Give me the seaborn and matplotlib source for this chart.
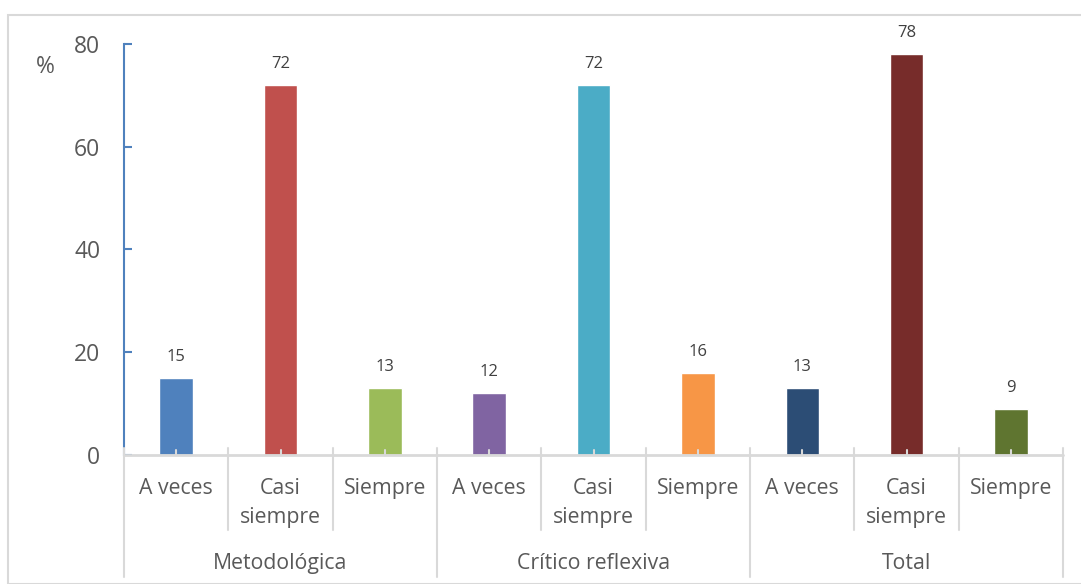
import matplotlib.pyplot as plt
import matplotlib.transforms as mtransforms
import seaborn as sns
import pandas as pd

# data
groups = ['Metodológica', 'Crítico reflexiva', 'Total']
levels = ['A veces', 'Casi\nsiempre', 'Siempre']
values = [15, 72, 13, 12, 72, 16, 13, 78, 9]
bar_colors = ['#4F81BD', '#C0504D', '#9BBB59',
              '#8064A2', '#4BACC6', '#F79646',
              '#2C4D75', '#772C2A', '#5F7530']
y_ticks = [0, 20, 40, 60, 80]

sns.set_style('white')
plt.rcParams['font.family'] = ['Open Sans', 'DejaVu Sans']

keys = [f'{g}|{l}' for g in groups for l in levels]
df = pd.DataFrame({'key': keys, 'value': values})

fig = plt.figure(figsize=(10.81, 5.84), dpi=100)
ax = fig.add_axes([0.1147, 0.2209, 0.9834 - 0.1147, 0.9247 - 0.2209])

sns.barplot(data=df, x='key', y='value', hue='key', palette=bar_colors,
            legend=False, width=0.32, ax=ax, saturation=1)

ax.set_xlim(-0.5, len(keys) - 0.5)
ax.set_ylim(0, 80)
ax.set_yticks(y_ticks)
ax.set_xlabel('')
ax.set_ylabel('')
ax.set_xticks([])

text_gray = '#595959'
line_gray = '#D9D9D9'

# y axis in blue, ticks pointing inward
for side in ['top', 'right', 'bottom']:
    ax.spines[side].set_visible(False)
ax.spines['left'].set_color('#4F81BD')
ax.spines['left'].set_linewidth(1.5)
ax.tick_params(axis='y', direction='in', length=6, width=1.5, color='#4F81BD',
               labelsize=16.5, labelcolor=text_gray, pad=17, left=True)

# value labels
for i, v in enumerate(values):
    ax.text(i, v + 4.1, str(v), ha='center', va='center', fontsize=12,
            color='#404040')

ax.text(-0.084, 0.944, '%', transform=ax.transAxes, fontsize=16.5,
        color=text_gray, ha='center', va='center')

# multi-level category axis
px = 1.0 / (584 * (0.9247 - 0.2209))  # one pixel in axes-fraction height
trans = mtransforms.blended_transform_factory(ax.transData, ax.transAxes)
ax.plot([-0.5, len(keys) - 0.5], [0, 0], transform=trans, color=line_gray,
        lw=2, clip_on=False, zorder=3)
for i in range(len(keys)):
    ax.plot([i, i], [0, 5 * px], transform=trans, color=line_gray, lw=1.5,
            clip_on=False, zorder=3)
for b in range(len(keys) + 1):
    x = b - 0.5
    bottom = -122 * px if b % 3 == 0 else -75 * px
    ax.plot([x, x], [7 * px, bottom], transform=trans, color=line_gray,
            lw=1.5, clip_on=False, zorder=3)

for i, k in enumerate(keys):
    lvl = k.split('|')[1]
    ax.text(i, -23 * px, lvl, transform=trans, ha='center', va='top',
            fontsize=15.3, color=text_gray, linespacing=1.5)
for g, name in enumerate(groups):
    ax.text(g * 3 + 1, -109 * px, name, transform=trans, ha='center',
            va='center', fontsize=15.3, color=text_gray)

# chart border
fig.patches.append(plt.Rectangle((8 / 1081, 0), 1081, 569 / 584,
                                 transform=fig.transFigure, fill=False,
                                 edgecolor=line_gray, lw=1.5))

fig.savefig('out.png', dpi=100)
